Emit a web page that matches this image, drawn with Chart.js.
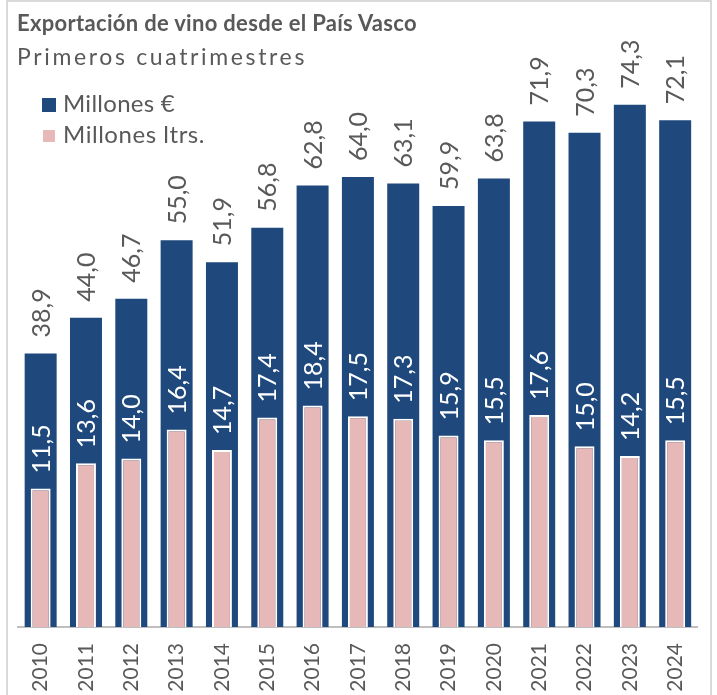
<!DOCTYPE html>
<html>
<head>
<meta charset="utf-8">
<script src="https://cdn.jsdelivr.net/npm/chart.js@4.4.1/dist/chart.umd.min.js"></script>
<style>
  body { margin: 0; background: #fff; }
  #wrap { position: relative; width: 717px; height: 695px; overflow: hidden; font-family: Lato, sans-serif; color: #595959; }
  #frame { position: absolute; left: 6px; top: 0; width: 706px; height: 720px; border: 2px solid #d9d9d9; box-sizing: border-box; }
  #chart { position: absolute; left: 0; top: 0; }
  .titulo { position: absolute; left: 17px; top: 11.5px; font-size: 22px; line-height: 1; font-weight: bold; white-space: nowrap; }
  .subtitulo { position: absolute; left: 17px; top: 44.6px; font-size: 23px; line-height: 1; white-space: nowrap; }
  .leyenda { position: absolute; left: 0; top: 0; font-size: 24px; line-height: 1; white-space: nowrap; }
  .leyenda .item { position: absolute; left: 0; white-space: nowrap; }
  .leyenda .cuadro { position: absolute; }
  .leyenda .txt { position: absolute; left: 63px; top: 0; }
</style>
</head>
<body>
<div id="wrap">
  <div id="frame"></div>
  <canvas id="chart" width="717" height="695"></canvas>
  <div class="titulo" id="titulo">Exportación de vino desde el País Vasco</div>
  <div class="subtitulo" id="subtitulo">Primeros cuatrimestres</div>
  <div class="leyenda" id="leyenda"></div>
</div>
<script>
// datos
var anios = ['2010', '2011', '2012', '2013', '2014', '2015', '2016', '2017', '2018', '2019', '2020', '2021', '2022', '2023', '2024'];
var millonesEuros = [38.9, 44.0, 46.7, 55.0, 51.9, 56.8, 62.8, 64.0, 63.1, 59.9, 63.8, 71.9, 70.3, 74.3, 72.1];
var millonesLitros = [11.5, 13.6, 14.0, 16.4, 14.7, 17.4, 18.4, 17.5, 17.3, 15.9, 15.5, 17.6, 15.0, 14.2, 15.5];
var nombres = ['Millones €', 'Millones ltrs.'];

var azul = '#1F497D';
var rosa = '#E6B9B8';
var gris = '#595959';

function formato(v) {
    return v.toFixed(1).replace('.', ',');
}

// ajusta el espaciado para que el texto ocupe el ancho dado
function ajustarAncho(el, ancho) {
    el.style.letterSpacing = '0px';
    var actual = el.getBoundingClientRect().width;
    var n = el.textContent.length;
    el.style.letterSpacing = ((ancho - actual) / n) + 'px';
}

// etiquetas de datos giradas
var etiquetas = {
    id: 'etiquetas',
    afterDatasetsDraw: function (chart) {
        var ctx = chart.ctx;
        chart.data.datasets.forEach(function (ds, i) {
            var meta = chart.getDatasetMeta(i);
            meta.data.forEach(function (bar, j) {
                ctx.save();
                ctx.translate(bar.x + 1, bar.y - (i === 0 ? 16 : 15));
                ctx.rotate(-Math.PI / 2);
                ctx.font = '25px Lato';
                ctx.fillStyle = i === 0 ? gris : '#ffffff';
                ctx.textAlign = 'left';
                ctx.textBaseline = 'middle';
                ctx.fillText(formato(ds.data[j]), 0, 0);
                ctx.restore();
            });
        });
    }
};

var ctx = document.getElementById('chart').getContext('2d');
var grafico = new Chart(ctx, {
    type: 'bar',
    data: {
        labels: anios,
        datasets: [{
                label: nombres[0],
                data: millonesEuros,
                backgroundColor: azul,
                borderWidth: 0,
                barPercentage: 0.706,
                categoryPercentage: 1,
                grouped: false,
                order: 1,
                yAxisID: 'y'
            }, {
                label: nombres[1],
                data: millonesLitros,
                backgroundColor: rosa,
                borderColor: '#ffffff',
                borderWidth: 2,
                barPercentage: 0.44,
                categoryPercentage: 1,
                grouped: false,
                order: 0,
                yAxisID: 'y2'
            }]
    },
    options: {
        responsive: false,
        animation: false,
        layout: {
            padding: { top: 64.6, left: 18, right: 19, bottom: 0 }
        },
        scales: {
            x: {
                grid: { display: false, drawTicks: false },
                border: { display: true, color: '#bfbfbf', width: 2 },
                ticks: {
                    color: gris,
                    font: { family: 'Lato', size: 21 },
                    minRotation: 90,
                    maxRotation: 90,
                    autoSkip: false,
                    padding: 16
                },
                afterFit: function (scale) {
                    scale.height = 68;
                }
            },
            y: { display: false, min: 0, max: 80 },
            y2: { display: false, min: 0, max: 46.7, position: 'right' }
        },
        plugins: {
            legend: { display: false },
            tooltip: { enabled: false }
        }
    },
    plugins: [etiquetas]
});

// leyenda a partir de los datasets
var leyenda = document.getElementById('leyenda');
var tamCuadro = [14, 12];
var anchoLeyenda = [112, 142];
grafico.data.datasets.forEach(function (ds, i) {
    var item = document.createElement('div');
    item.className = 'item';
    item.style.top = (90.7 + i * 31) + 'px';
    var cuadro = document.createElement('div');
    cuadro.className = 'cuadro';
    cuadro.style.background = ds.backgroundColor;
    cuadro.style.width = tamCuadro[i] + 'px';
    cuadro.style.height = tamCuadro[i] + 'px';
    cuadro.style.left = (48.5 - tamCuadro[i] / 2) + 'px';
    cuadro.style.top = (14.3 - tamCuadro[i] / 2) + 'px';
    var txt = document.createElement('div');
    txt.className = 'txt';
    txt.textContent = ds.label;
    item.appendChild(cuadro);
    item.appendChild(txt);
    leyenda.appendChild(item);
    ajustarAncho(txt, anchoLeyenda[i]);
});

ajustarAncho(document.getElementById('titulo'), 400);
ajustarAncho(document.getElementById('subtitulo'), 290);
</script>
</body>
</html>
